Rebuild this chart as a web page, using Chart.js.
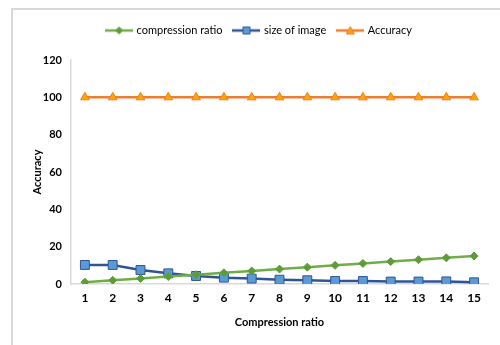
<!DOCTYPE html>
<html>
<head>
<meta charset="utf-8">
<script src="https://cdn.jsdelivr.net/npm/chart.js@4"></script>
<style>
  html, body { margin: 0; padding: 0; background: #fff; }
  #wrap { position: relative; width: 500px; height: 345px; overflow: hidden; }
  #frame { position: absolute; left: 11px; top: 8px; width: 520px; height: 360px; border: 2px solid #d9d9d9; box-sizing: border-box; }
  canvas { position: absolute; left: 0; top: 0; }
</style>
</head>
<body>
<div id="wrap">
  <div id="frame"></div>
  <canvas id="chart" width="500" height="345"></canvas>
</div>
<script>
const categories = ['1', '2', '3', '4', '5', '6', '7', '8', '9', '10', '11', '12', '13', '14', '15']
const compressionRatio = [1, 2, 3, 4, 5, 6, 7, 8, 9, 10, 11, 12, 13, 14, 15]
const sizeOfImage = [10.2, 10.2, 7.5, 5.7, 4.3, 3.4, 2.9, 2.3, 2.0, 1.6, 1.6, 1.3, 1.3, 1.4, 0.9]
const accuracy = [100, 100, 100, 100, 100, 100, 100, 100, 100, 100, 100, 100, 100, 100, 100]
const yTicks = [0, 20, 40, 60, 80, 100, 120]

const FONT = 'Lato, "Liberation Sans", sans-serif'

// small canvas used as legend symbol: line with marker in the middle
function legendSymbol(lineColor, marker, fill, stroke) {
  const c = document.createElement('canvas')
  c.width = 28
  c.height = 10
  const ctx = c.getContext('2d')
  ctx.strokeStyle = lineColor
  ctx.lineWidth = 2.5
  ctx.beginPath()
  ctx.moveTo(0, 5)
  ctx.lineTo(28, 5)
  ctx.stroke()
  ctx.fillStyle = fill
  ctx.strokeStyle = stroke
  ctx.lineWidth = 1
  ctx.beginPath()
  if (marker === 'diamond') {
    ctx.moveTo(14, 1.5); ctx.lineTo(17.5, 5); ctx.lineTo(14, 8.5); ctx.lineTo(10.5, 5); ctx.closePath()
  } else if (marker === 'square') {
    ctx.rect(10.5, 1.5, 7, 7)
  } else {
    ctx.moveTo(14, 1); ctx.lineTo(18, 8.5); ctx.lineTo(10, 8.5); ctx.closePath()
  }
  ctx.fill()
  ctx.stroke()
  return c
}

const symbols = [
  legendSymbol('#70ad47', 'diamond', '#5e9c3a', '#5e9c3a'),
  legendSymbol('#2f5597', 'square', '#5b9bd5', '#2f5597'),
  legendSymbol('#ed7d31', 'triangle', '#ffa500', '#ed7d31')
]

// leave some room between the legend and the plot
const legendGap = {
  id: 'legendGap',
  beforeLayout(chart) {
    const lg = chart.legend
    if (lg && !lg._gapPatched) {
      const fit = lg.fit
      lg.fit = function () {
        fit.call(this)
        this.height += 14
      }
      lg._gapPatched = true
    }
  }
}

new Chart(document.getElementById('chart'), {
  type: 'line',
  data: {
    labels: categories,
    datasets: [
      {
        label: 'compression ratio',
        data: compressionRatio,
        borderColor: '#70ad47',
        borderWidth: 2.5,
        pointStyle: 'rectRot',
        pointRadius: 4,
        pointBackgroundColor: '#5e9c3a',
        pointBorderColor: '#5e9c3a',
        pointBorderWidth: 1
      },
      {
        label: 'size of image',
        data: sizeOfImage,
        borderColor: '#2f5597',
        borderWidth: 2.5,
        pointStyle: 'rect',
        pointRadius: 6.3,
        pointBackgroundColor: '#5b9bd5',
        pointBorderColor: '#2f5597',
        pointBorderWidth: 1
      },
      {
        label: 'Accuracy',
        data: accuracy,
        borderColor: '#ed7d31',
        borderWidth: 2.5,
        pointStyle: 'triangle',
        pointRadius: 5,
        pointBackgroundColor: '#ffa500',
        pointBorderColor: '#ed7d31',
        pointBorderWidth: 1
      }
    ]
  },
  plugins: [legendGap],
  options: {
    responsive: false,
    animation: false,
    layout: { padding: { left: 31, right: 12, top: 13, bottom: 16 } },
    plugins: {
      legend: {
        position: 'top',
        labels: {
          usePointStyle: true,
          pointStyleWidth: 24,
          boxHeight: 10,
          padding: 12,
          color: '#000',
          font: { family: FONT, size: 11 },
          generateLabels: (chart) => chart.data.datasets.map((ds, i) => ({
            text: ds.label,
            pointStyle: symbols[i],
            datasetIndex: i,
            hidden: false,
            lineWidth: 0
          }))
        }
      },
      tooltip: { enabled: false }
    },
    scales: {
      x: {
        offset: true,
        grid: { display: false, drawTicks: false },
        border: { color: '#d9d9d9', width: 1.5 },
        ticks: { color: '#000', padding: 7, font: { family: FONT, size: 12, weight: 'bold' } },
        title: { display: true, text: 'Compression ratio', color: '#000', padding: 0, font: { family: FONT, size: 11, weight: 'bold' } },
        afterFit: (axis) => { axis.height = 45 }
      },
      y: {
        min: 0,
        max: 120,
        afterBuildTicks: (axis) => { axis.ticks = yTicks.map(v => ({ value: v })) },
        grid: { display: false, drawTicks: false },
        border: { color: '#d9d9d9', width: 1.5 },
        ticks: { color: '#000', padding: 9, font: { family: FONT, size: 11, weight: 'bold' } },
        title: { display: true, text: 'Accuracy', color: '#000', padding: 0, font: { family: FONT, size: 11, weight: 'bold' } },
        afterFit: (axis) => { axis.width = 40 }
      }
    }
  }
})
</script>
</body>
</html>
